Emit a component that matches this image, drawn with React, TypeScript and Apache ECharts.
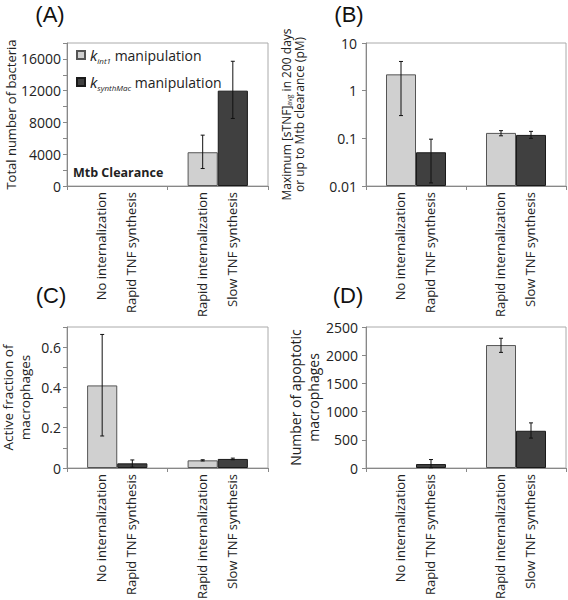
import React, { useEffect, useRef } from 'react';
import * as echarts from 'echarts';

// ---------- data ----------
const groups = ['Group 1', 'Group 2'];
const seriesNames = ['kint1', 'ksynthMac'];
const kint1Labels = ['No internalization', 'Rapid internalization'];
const ksynthLabels = ['Rapid TNF synthesis', 'Slow TNF synthesis'];

// (A) Total number of bacteria
const aKint1 = [null, 4250];
const aKint1Low = [null, 2200];
const aKint1High = [null, 6400];
const aKsynth = [null, 12000];
const aKsynthLow = [null, 8500];
const aKsynthHigh = [null, 15700];
const aTickLabels = [0, 4000, 8000, 12000, 16000];

// (B) Maximum [sTNF]avg (pM), log scale
const bKint1 = [2.2, 0.13];
const bKint1Low = [0.3, 0.113];
const bKint1High = [4.1, 0.145];
const bKsynth = [0.051, 0.118];
const bKsynthLow = [0.0116, 0.1];
const bKsynthHigh = [0.096, 0.14];

// (C) Active fraction of macrophages
const cKint1 = [0.41, 0.038];
const cKint1Low = [0.159, 0.035];
const cKint1High = [0.663, 0.041];
const cKsynth = [0.023, 0.045];
const cKsynthLow = [0.004, 0.041];
const cKsynthHigh = [0.04, 0.049];
const cTickLabels = [0, 0.2, 0.4, 0.6];

// (D) Number of apoptotic macrophages
const dKint1 = [null, 2180];
const dKint1Low = [null, 2050];
const dKint1High = [null, 2300];
const dKsynth = [70, 660];
const dKsynthLow = [5, 530];
const dKsynthHigh = [150, 800];

const FONT = 'Open Sans';
const LIGHT = '#d0d0d0';
const DARK = '#404040';
const AXIS = '#888888';

type Panel = {
  grid: any;
  yAxis: any;
  base: number;
  kint1: (number | null)[];
  kint1Low: (number | null)[];
  kint1High: (number | null)[];
  ksynth: (number | null)[];
  ksynthLow: (number | null)[];
  ksynthHigh: (number | null)[];
};

const baseY = {
  axisLine: { show: true, lineStyle: { color: AXIS, width: 1 } },
  axisTick: { show: true, inside: false, length: 4, lineStyle: { color: AXIS } },
  splitLine: { show: false },
  nameLocation: 'middle',
  nameRotate: 90,
};

const labelStyle = (margin: number) => ({
  fontSize: 14,
  color: '#222',
  fontFamily: FONT,
  margin,
});

const panels: Panel[] = [
  {
    grid: { left: 67, top: 43, width: 201, height: 143 },
    yAxis: {
      ...baseY,
      type: 'value',
      min: 0,
      max: 18000,
      interval: 2000,
      axisLabel: {
        ...labelStyle(6),
        formatter: (v: number) => (aTickLabels.includes(v) ? String(v) : ''),
      },
      name: 'Total number of bacteria',
      nameGap: 50,
      nameTextStyle: { fontSize: 13, color: '#222', fontFamily: FONT },
    },
    base: 0,
    kint1: aKint1,
    kint1Low: aKint1Low,
    kint1High: aKint1High,
    ksynth: aKsynth,
    ksynthLow: aKsynthLow,
    ksynthHigh: aKsynthHigh,
  },
  {
    grid: { left: 366, top: 43, width: 200, height: 143 },
    yAxis: {
      ...baseY,
      type: 'log',
      logBase: 10,
      min: 0.01,
      max: 10,
      startValue: 0.01,
      axisLabel: {
        ...labelStyle(9),
        formatter: (v: number) => String(v),
      },
      name: '{n|Maximum [sTNF]}{s|avg}{n| in 200 days}\n{n|or up to Mtb clearance (pM)}',
      nameGap: 60,
      nameTextStyle: {
        fontSize: 12,
        color: '#222',
        fontFamily: FONT,
        lineHeight: 13,
        rich: {
          n: { fontSize: 12, color: '#222', fontFamily: FONT, lineHeight: 13 },
          s: { fontSize: 7, color: '#222', fontFamily: FONT, lineHeight: 13, verticalAlign: 'bottom' },
        },
      },
    },
    base: 0.01,
    kint1: bKint1,
    kint1Low: bKint1Low,
    kint1High: bKint1High,
    ksynth: bKsynth,
    ksynthLow: bKsynthLow,
    ksynthHigh: bKsynthHigh,
  },
  {
    grid: { left: 67, top: 327, width: 201, height: 141 },
    yAxis: {
      ...baseY,
      type: 'value',
      min: 0,
      max: 0.7,
      interval: 0.1,
      axisLabel: {
        ...labelStyle(6),
        formatter: (v: number) =>
          cTickLabels.some((t) => Math.abs(t - v) < 1e-6) ? String(Math.round(v * 10) / 10) : '',
      },
      name: 'Active fraction of\nmacrophages',
      nameGap: 34,
      nameTextStyle: { fontSize: 13.5, color: '#222', fontFamily: FONT, lineHeight: 17 },
    },
    base: 0,
    kint1: cKint1,
    kint1Low: cKint1Low,
    kint1High: cKint1High,
    ksynth: cKsynth,
    ksynthLow: cKsynthLow,
    ksynthHigh: cKsynthHigh,
  },
  {
    grid: { left: 366, top: 327, width: 200, height: 141 },
    yAxis: {
      ...baseY,
      type: 'value',
      min: 0,
      max: 2500,
      interval: 500,
      axisLabel: { ...labelStyle(8), formatter: (v: number) => String(v) },
      name: 'Number of apoptotic\nmacrophages',
      nameGap: 43,
      nameTextStyle: { fontSize: 14, color: '#222', fontFamily: FONT, lineHeight: 18 },
    },
    base: 0,
    kint1: dKint1,
    kint1Low: dKint1Low,
    kint1High: dKint1High,
    ksynth: dKsynth,
    ksynthLow: dKsynthLow,
    ksynthHigh: dKsynthHigh,
  },
];

const BAR_FRAC = 0.3;

function errorRender(params: any, api: any) {
  const cs = params.coordSys;
  const band = cs.width / groups.length;
  const bw = band * BAR_FRAC;
  const cat = api.value(0);
  const slot = api.value(3);
  const x = cs.x + band * (cat + 0.5) + (slot === 0 ? -bw / 2 : bw / 2);
  const yLow = api.coord([cat, api.value(1)])[1];
  const yHigh = api.coord([cat, api.value(2)])[1];
  const st = { stroke: '#111', lineWidth: 1 };
  return {
    type: 'group',
    children: [
      { type: 'line', shape: { x1: x, y1: yLow, x2: x, y2: yHigh }, style: st },
      { type: 'line', shape: { x1: x - 2, y1: yLow, x2: x + 2, y2: yLow }, style: st },
      { type: 'line', shape: { x1: x - 2, y1: yHigh, x2: x + 2, y2: yHigh }, style: st },
    ],
  };
}

function labelRender(params: any, api: any) {
  const cs = params.coordSys;
  const band = cs.width / groups.length;
  const bw = band * BAR_FRAC;
  const cat = api.value(0);
  const slot = api.value(2);
  const x = cs.x + band * (cat + 0.5) + (slot === 0 ? -bw / 2 : bw / 2) - 1;
  const y = cs.y + cs.height + 6;
  const text = slot === 0 ? kint1Labels[cat] : ksynthLabels[cat];
  return {
    type: 'text',
    x,
    y,
    rotation: Math.PI / 2,
    style: {
      text,
      x: 0,
      y: 0,
      align: 'right',
      verticalAlign: 'middle',
      fontSize: 13,
      fontFamily: FONT,
      fill: '#222',
    },
  };
}

function buildOption() {
  const grid: any[] = [];
  const xAxis: any[] = [];
  const yAxis: any[] = [];
  const series: any[] = [];

  panels.forEach((p, i) => {
    grid.push({
      ...p.grid,
      show: true,
      borderColor: '#aaaaaa',
      borderWidth: 1,
      backgroundColor: 'transparent',
      containLabel: false,
      outerBoundsMode: 'none',
    });
    xAxis.push({
      type: 'category',
      gridIndex: i,
      data: groups,
      axisLabel: { show: false },
      axisTick: { show: true, length: 4, lineStyle: { color: AXIS } },
      axisLine: { show: true, lineStyle: { color: AXIS } },
      splitLine: { show: false },
    });
    yAxis.push({ ...p.yAxis, gridIndex: i });

    series.push({
      type: 'bar',
      name: seriesNames[0],
      xAxisIndex: i,
      yAxisIndex: i,
      data: p.kint1.map((v) => (v == null ? '-' : v)),
      barWidth: '30%',
      barGap: '0%',
      itemStyle: { color: LIGHT, borderColor: '#555', borderWidth: 1 },
    });
    series.push({
      type: 'bar',
      name: seriesNames[1],
      xAxisIndex: i,
      yAxisIndex: i,
      data: p.ksynth.map((v) => (v == null ? '-' : v)),
      barWidth: '30%',
      barGap: '0%',
      itemStyle: { color: DARK, borderColor: '#1a1a1a', borderWidth: 1 },
    });

    const errData: any[] = [];
    p.kint1.forEach((v, c) => {
      if (v != null && p.kint1Low[c] != null && p.kint1High[c] != null)
        errData.push([c, p.kint1Low[c], p.kint1High[c], 0]);
    });
    p.ksynth.forEach((v, c) => {
      if (v != null && p.ksynthLow[c] != null && p.ksynthHigh[c] != null)
        errData.push([c, p.ksynthLow[c], p.ksynthHigh[c], 1]);
    });
    series.push({
      type: 'custom',
      xAxisIndex: i,
      yAxisIndex: i,
      data: errData,
      renderItem: errorRender,
      silent: true,
      z: 5,
      encode: { x: 0, y: [1, 2] },
    });

    const labData: any[] = [];
    groups.forEach((_, c) => {
      labData.push([c, p.base, 0]);
      labData.push([c, p.base, 1]);
    });
    series.push({
      type: 'custom',
      xAxisIndex: i,
      yAxisIndex: i,
      data: labData,
      renderItem: labelRender,
      silent: true,
      clip: false,
      z: 5,
      encode: { x: 0, y: 1 },
    });
  });

  const panelLabel = (t: string, x: number, y: number) => ({
    type: 'text',
    x,
    y,
    style: {
      text: t,
      fontSize: 22,
      fontFamily: 'Liberation Sans',
      fill: '#111',
      align: 'center',
      verticalAlign: 'middle',
    },
  });

  return {
    animation: false,
    backgroundColor: '#ffffff',
    grid,
    xAxis,
    yAxis,
    series,
    legend: {
      data: seriesNames,
      orient: 'vertical',
      left: 71,
      top: 41,
      itemWidth: 8,
      itemHeight: 8,
      itemGap: 9,
      icon: 'rect',
      selectedMode: false,
      formatter: (name: string) =>
        name === 'kint1'
          ? '{k|k}{s|int1} {t|manipulation}'
          : '{k|k}{s|synthMac} {t|manipulation}',
      textStyle: {
        fontSize: 14,
        fontFamily: FONT,
        color: '#222',
        lineHeight: 18,
        rich: {
          k: { fontSize: 15, fontStyle: 'italic', fontFamily: FONT, color: '#222', lineHeight: 18, verticalAlign: 'middle' },
          s: { fontSize: 8, fontStyle: 'italic', fontFamily: FONT, color: '#222', lineHeight: 18, verticalAlign: 'bottom' },
          t: { fontSize: 14, fontFamily: FONT, color: '#222', lineHeight: 18, verticalAlign: 'middle' },
        },
      },
    },
    graphic: [
      panelLabel('(A)', 50, 14),
      panelLabel('(B)', 349, 14),
      panelLabel('(C)', 51, 295),
      panelLabel('(D)', 348, 295),
      {
        type: 'text',
        x: 73,
        y: 172,
        style: {
          text: 'Mtb Clearance',
          fontSize: 12.5,
          fontWeight: 'bold',
          fontFamily: FONT,
          fill: '#222',
          align: 'left',
          verticalAlign: 'middle',
        },
      },
    ],
  };
}

export default function App() {
  const ref = useRef<HTMLDivElement>(null);
  useEffect(() => {
    document.body.style.margin = '0';
    if (!ref.current) return;
    const chart = echarts.init(ref.current, undefined, { renderer: 'svg' });
    chart.setOption(buildOption() as any);
    return () => {
      chart.dispose();
    };
  }, []);
  return <div ref={ref} style={{ width: 568, height: 600 }} />;
}
